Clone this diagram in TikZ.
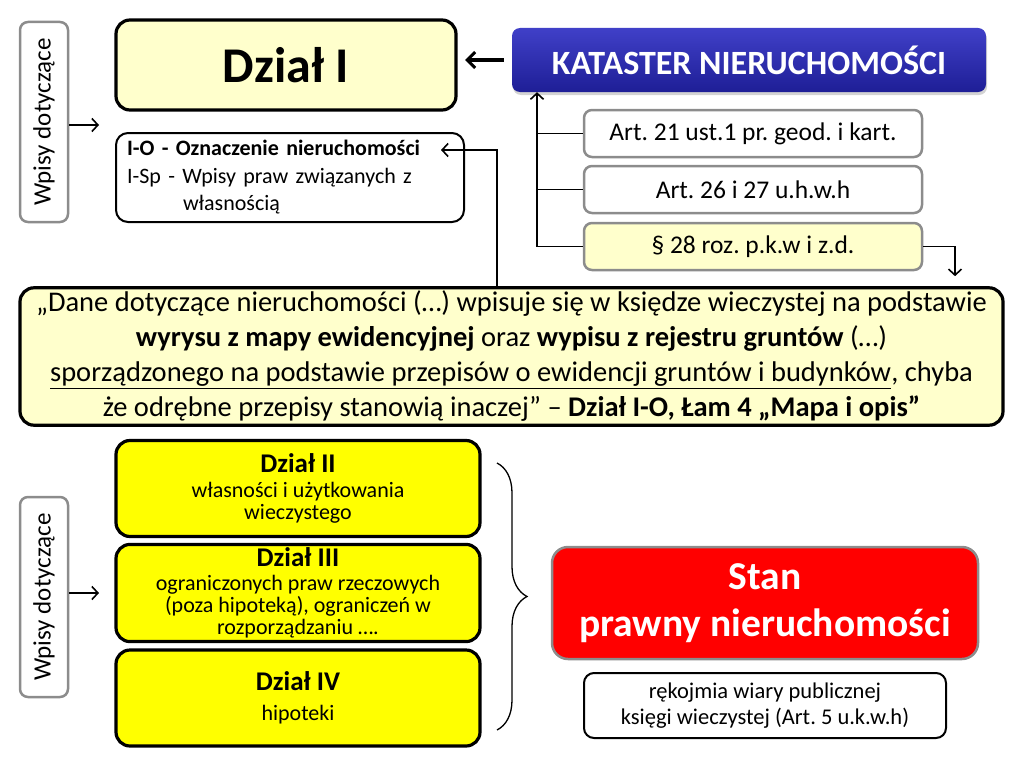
\documentclass[tikz,border=0pt]{standalone}
\usepackage{fontspec}
\setmainfont{Carlito}
\frenchspacing
\usepackage{tikz}
\usetikzlibrary{arrows.meta,decorations.pathreplacing,shadows}
\tikzset{>={Straight Barb[length=6pt,width=13pt]}}
\definecolor{paleY}{HTML}{FFFFCC}
\definecolor{fullY}{HTML}{FFFF00}
\definecolor{stanR}{HTML}{FF0000}
\definecolor{katTop}{HTML}{4040C8}
\definecolor{katBot}{HTML}{1E1E96}
\definecolor{edgeG}{HTML}{8C8C8C}
\tikzset{
  wpis/.style={draw=edgeG,line width=2.5pt,rounded corners=8pt,rotate=90,
    minimum width=200pt,minimum height=48pt,font=\fontsize{25}{28}\selectfont},
  bigbox/.style={draw,line width=3.2pt,rounded corners=14pt,align=center},
  artbox/.style={draw=edgeG,line width=2.5pt,rounded corners=8pt,
    minimum width=338pt,minimum height=47pt,font=\fontsize{25.5}{28}\selectfont},
  link/.style={line width=1.6pt},
  dzial/.style={bigbox,fill=fullY,minimum width=364pt,minimum height=96pt,
    font=\fontsize{22}{22}\selectfont},
}
\newcommand{\dtitle}[1]{{\fontsize{27}{30}\selectfont\bfseries #1}}

\begin{document}
\begin{tikzpicture}[x=1pt,y=-1pt]
\useasboundingbox (0,0) rectangle (1024,768);
% upper half
\node[wpis] (wpisA) at (44,122) {Wpisy dotyczące};
\node[bigbox,fill=paleY,minimum width=340pt,minimum height=90pt,
  font=\fontsize{50}{54}\selectfont\bfseries] (dzialI) at (286,65) {Dział I};
\node[rounded corners=8pt,top color=katTop,bottom color=katBot,
  drop shadow={opacity=.35,shadow xshift=1pt,shadow yshift=-3pt},
  minimum width=474pt,minimum height=64pt,text=white,
  font=\fontsize{34}{38}\selectfont\bfseries] (kataster) at (749,60) {KATASTER NIERUCHOMOŚCI};
\node[draw,line width=2pt,rounded corners=12pt,fill=white,minimum width=348pt,
  minimum height=89pt,align=left,text width=326pt,
  font=\fontsize{22}{27.5}\selectfont] (io) at (290,177.5)
  {\textbf{I-O - Oznaczenie nieruchomości}\\I-Sp - Wpisy praw związanych z\\\hspace*{56pt}własnością};
\node[artbox] (art1) at (753,133.5) {Art. 21 ust.1 pr. geod. i kart.};
\node[artbox] (art2) at (753,189.5) {Art. 26 i 27 u.h.w.h};
\node[artbox,fill=paleY] (art3) at (753,246.5) {§ 28 roz. p.k.w i z.d.};
\node[bigbox,fill=paleY,minimum width=983pt,minimum height=137pt,
  font=\fontsize{28.5}{35}\selectfont] (quote) at (511.5,356.5)
  {„Dane dotyczące nieruchomości (…) wpisuje się w księdze wieczystej na podstawie\\
   \textbf{wyrysu z mapy ewidencyjnej} oraz \textbf{wypisu z rejestru gruntów} (…)\\
   \underline{sporządzonego na podstawie przepisów o ewidencji gruntów i budynków}, chyba\\
   że odrębne przepisy stanowią inaczej” – \textbf{Dział I-O, Łam 4 „Mapa i opis”}};
\coordinate (aEnd) at (99,125);
\coordinate (dEnd) at (465,62);
\coordinate (bus) at (537,0);
\coordinate (q28) at (955,0);
\coordinate (upX) at (497,0);
\coordinate (ioTip) at (441,150);
\draw[->,link] (wpisA.south |- aEnd) -- (aEnd);
\draw[-{Straight Barb[length=8pt,width=16pt]},line width=3pt,shorten <=8pt]
  (kataster.west) -- (kataster.west -| dEnd);
\draw[->,link] (art3.west) -| (kataster.south -| bus);
\draw[link] (art1.west) -- (art1.west -| bus);
\draw[link] (art2.west) -- (art2.west -| bus);
\draw[->,link,shorten >=10pt] (art3.east) -| (quote.north -| q28);
\draw[->,link] (quote.north -| upX) |- (ioTip);
% lower half
\node[wpis] (wpisB) at (44,597) {Wpisy dotyczące};
\node[dzial] (d2) at (298,488.5) {\dtitle{Dział II}\\[3pt]własności i użytkowania\\wieczystego};
\node[dzial] (d3) at (298,593) {\dtitle{Dział III}\\[2pt]ograniczonych praw rzeczowych\\(poza hipoteką), ograniczeń w\\rozporządzaniu ….};
\node[dzial] (d4) at (298,698) {\dtitle{Dział IV}\\[8pt]hipoteki};
\node[draw=edgeG,line width=2.5pt,rounded corners=16pt,fill=stanR,text=white,
  minimum width=426pt,minimum height=112pt,align=center,
  font=\fontsize{39.5}{47}\selectfont\bfseries] (stan) at (765,603) {Stan\\prawny nieruchomości};
\node[draw,line width=2pt,rounded corners=10pt,minimum width=362pt,minimum height=65pt,
  align=center,font=\fontsize{22.5}{26}\selectfont] (rek) at (765,705.5)
  {rękojmia wiary publicznej\\księgi wieczystej (Art. 5 u.k.w.h)};
\coordinate (bEnd) at (99,593);
\coordinate (brTop) at (497,463);
\coordinate (brBot) at (497,730);
\draw[->,link] (wpisB.south |- bEnd) -- (bEnd);
\draw[line width=1.3pt,decorate,decoration={brace,amplitude=30pt}] (brTop) -- (brBot);
\end{tikzpicture}
\end{document}
